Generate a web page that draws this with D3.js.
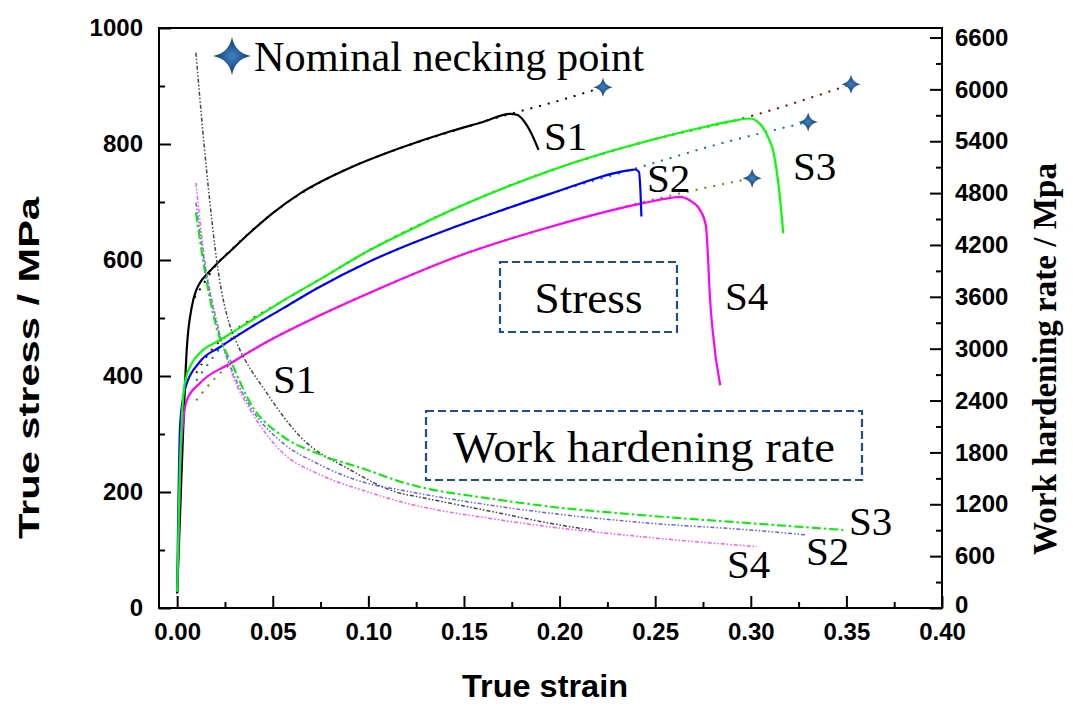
<!DOCTYPE html>
<html>
<head>
<meta charset="utf-8">
<script src="https://cdn.jsdelivr.net/npm/d3@7"></script>
<style>
  body { margin: 0; background: #fff; }
  svg { display: block; }
</style>
</head>
<body>
<svg id="chart" width="1073" height="709"></svg>
<script>
// ---- tick values ----
const strainTicks = [0, 0.05, 0.10, 0.15, 0.20, 0.25, 0.30, 0.35, 0.40];
const strainMinor = [0.025, 0.075, 0.125, 0.175, 0.225, 0.275, 0.325, 0.375];
const stressTicks = [0, 200, 400, 600, 800, 1000];
const stressMinor = [100, 300, 500, 700, 900];
const rateTicks = [0, 600, 1200, 1800, 2400, 3000, 3600, 4200, 4800, 5400, 6000, 6600];
const rateMinor = [300, 900, 1500, 2100, 2700, 3300, 3900, 4500, 5100, 5700, 6300];

// ---- true stress–strain curves [strain, MPa] ----
const stressS1 = [[0,25],[0.0015,160],[0.003,295],[0.005,445],[0.0077,520],[0.01,548],[0.012,561],[0.016,577],
  [0.02,591],[0.028,616],[0.038,647],[0.05,681],[0.064,714],[0.0905,759],[0.1166,793],[0.143,822],[0.16,838],
  [0.174,852],[0.178,850],[0.181,841],[0.185,820],[0.189,790]];
const stressS2 = [[0,28],[0.0016,319],[0.004,376],[0.012,425],[0.0225,450],[0.038,483],[0.0555,517],[0.073,551],
  [0.099,595],[0.12,625],[0.1427,654],[0.17,686],[0.195,714],[0.237,755],[0.2395,756],[0.2415,752],[0.2422,725],[0.2428,675]];
const stressS3 = [[0,28],[0.0012,215],[0.0025,330],[0.004,388],[0.0077,422],[0.012,440],[0.0225,462],[0.038,494],
  [0.0555,530],[0.0764,570],[0.099,614],[0.12,649],[0.1427,685],[0.17,723],[0.195,754],[0.22,781],[0.247,806],
  [0.27,825],[0.291,840],[0.2996,844],[0.303,840],[0.306,830],[0.309,812],[0.312,784],[0.315,715],[0.317,646]];
const stressS4 = [[0,28],[0.0006,100],[0.002,272],[0.005,358],[0.012,388],[0.028,422],[0.047,459],[0.073,502],
  [0.108,554],[0.1515,612],[0.195,657],[0.2437,698],[0.258,707],[0.263,709],[0.268,703],[0.2735,686],
  [0.2765,660],[0.2777,600],[0.2785,543],[0.280,480],[0.284,384]];

// ---- fitted flow curves, extended to nominal necking [strain, MPa] ----
const fitS1 = [[0.009,535],[0.013,555],[0.02,590],[0.03,623],[0.05,681],[0.08,743],[0.11,785],[0.14,818],
  [0.17,848],[0.2,875],[0.2227,898]];
const fitS2 = [[0.010,392],[0.016,420],[0.0225,448],[0.038,483],[0.0555,517],[0.073,551],[0.099,595],
  [0.1427,654],[0.195,714],[0.24,758],[0.28,797],[0.33,838]];
const fitS3 = [[0.010,405],[0.018,445],[0.03,478],[0.0555,530],[0.0764,570],[0.099,614],[0.1427,685],
  [0.195,754],[0.247,806],[0.3,848],[0.3524,903]];
const fitS4 = [[0.010,358],[0.018,390],[0.0225,405],[0.047,459],[0.073,502],[0.108,554],[0.1515,612],
  [0.195,657],[0.2437,700],[0.27,720],[0.3007,741]];

// ---- nominal necking points ----
const neckStrain = [0.2227, 0.33, 0.3524, 0.3007];
const neckStress = [898, 838, 903, 741];

// ---- work hardening rate [strain, MPa] ----
const whrS1 = [[0.0098,6423],[0.0155,5037],[0.0216,3879],[0.0277,3257],[0.0312,3065],[0.0469,2486],
  [0.0643,1983],[0.0905,1598],[0.1166,1328],[0.1253,1289],[0.1689,1097],[0.195,980],[0.2168,903]];
const whrS2 = [[0.0098,4689],[0.0146,3950],[0.0199,3350],[0.0293,2717],[0.0382,2331],[0.0554,1907],
  [0.073,1675],[0.0992,1444],[0.1166,1366],[0.1689,1173],[0.2473,981],[0.2996,903],[0.3293,845]];
const whrS3 = [[0.0098,4574],[0.0146,3879],[0.0199,3300],[0.0293,2794],[0.0382,2374],[0.0554,1983],
  [0.073,1791],[0.0992,1598],[0.1166,1462],[0.1689,1250],[0.195,1173],[0.2473,1067],[0.2996,981],[0.3484,903]];
const whrS4 = [[0.0098,4918],[0.0146,4000],[0.0199,3400],[0.0293,2678],[0.0382,2293],[0.0554,1791],
  [0.073,1560],[0.0992,1347],[0.1166,1231],[0.1689,1019],[0.2473,815],[0.3031,710]];

// ---- layout ----
const svg = d3.select("#chart");
const L = 159, R = 942, T = 28, B = 608;

const x = d3.scaleLinear().domain([-0.0095, 0.40]).range([L, R]);
const yS = d3.scaleLinear().domain([0, 1000]).range([B, T]);
const yW = d3.scaleLinear().domain([0, 6600]).range([B, 37.5]);

const tickFont = "'Liberation Sans', Arial, sans-serif";
const serif = "'Liberation Serif', 'Times New Roman', serif";

// axes with inward ticks
function styleAxis(g) {
  g.select(".domain").remove();
  g.selectAll(".tick line").attr("stroke", "#000").attr("stroke-width", 2);
  g.selectAll(".tick text").attr("font-family", tickFont).attr("font-weight", "bold")
    .attr("font-size", 24).attr("fill", "#000");
}

svg.append("g").attr("transform", `translate(0,${B})`)
  .call(d3.axisBottom(x).tickValues(strainTicks).tickFormat(d3.format(".2f")).tickSize(-12).tickPadding(15))
  .call(styleAxis);
svg.append("g").attr("transform", `translate(0,${B})`)
  .call(d3.axisBottom(x).tickValues(strainMinor).tickFormat("").tickSize(-6))
  .call(styleAxis);

svg.append("g").attr("transform", `translate(${L},0)`)
  .call(d3.axisLeft(yS).tickValues(stressTicks).tickFormat(d3.format("d")).tickSize(-12).tickPadding(16))
  .call(styleAxis);
svg.append("g").attr("transform", `translate(${L},0)`)
  .call(d3.axisLeft(yS).tickValues(stressMinor).tickFormat("").tickSize(-6))
  .call(styleAxis);

const rightAxis = svg.append("g").attr("transform", `translate(${R},0)`)
  .call(d3.axisRight(yW).tickValues(rateTicks).tickFormat(d3.format("d")).tickSize(-12).tickPadding(13))
  .call(styleAxis);
// lift the bottom label slightly so it clears the strain labels
rightAxis.selectAll(".tick text").filter(d => d === 0).attr("dy", "0.2em");
svg.append("g").attr("transform", `translate(${R},0)`)
  .call(d3.axisRight(yW).tickValues(rateMinor).tickFormat("").tickSize(-6))
  .call(styleAxis);

// frame
svg.append("rect").attr("x", L).attr("y", T).attr("width", R - L).attr("height", B - T)
  .attr("fill", "none").attr("stroke", "#000").attr("stroke-width", 2);

// axis titles
svg.append("text").attr("x", 545).attr("y", 697).attr("text-anchor", "middle")
  .attr("font-family", tickFont).attr("font-weight", "bold").attr("font-size", 31)
  .attr("textLength", 166).attr("lengthAdjust", "spacingAndGlyphs").text("True strain");
svg.append("text").attr("transform", "translate(39,368) rotate(-90)").attr("text-anchor", "middle")
  .attr("font-family", tickFont).attr("font-weight", "bold").attr("font-size", 30)
  .attr("textLength", 342).attr("lengthAdjust", "spacingAndGlyphs").text("True stress / MPa");
svg.append("text").attr("transform", "translate(1056,359) rotate(-90)").attr("text-anchor", "middle")
  .attr("font-family", serif).attr("font-weight", "bold").attr("font-size", 33)
  .attr("textLength", 392).attr("lengthAdjust", "spacingAndGlyphs").text("Work hardening rate / Mpa");

// lines
const lineS = d3.line().x(d => x(d[0])).y(d => yS(d[1])).curve(d3.curveMonotoneX);
const lineW = d3.line().x(d => x(d[0])).y(d => yW(d[1])).curve(d3.curveMonotoneX);

const fits = [
  { data: fitS1, color: "#000000" },
  { data: fitS2, color: "#008080" },
  { data: fitS3, color: "#8b0000" },
  { data: fitS4, color: "#808000" }
];
fits.forEach(f => {
  svg.append("path").attr("d", lineS(f.data)).attr("fill", "none")
    .attr("stroke", f.color).attr("stroke-width", 2).attr("stroke-dasharray", "2,7");
});

const stresses = [
  { data: stressS1, color: "#000000" },
  { data: stressS4, color: "#ff00ff" },
  { data: stressS2, color: "#0000ff" },
  { data: stressS3, color: "#00ff00" }
];
stresses.forEach(s => {
  svg.append("path").attr("d", lineS(s.data)).attr("fill", "none")
    .attr("stroke", s.color).attr("stroke-width", 2.2).attr("stroke-linejoin", "round");
});

const whrs = [
  { data: whrS1, color: "#444444", dash: "4,2,1.5,2,1.5,2", w: 1.5 },
  { data: whrS4, color: "#ff55ff", dash: "4,2,1.5,2,1.5,2", w: 1.5 },
  { data: whrS2, color: "#6060ff", dash: "4,2,1.5,2,1.5,2", w: 1.5 },
  { data: whrS3, color: "#00ee00", dash: "9,3,2.5,3", w: 2 }
];
whrs.forEach(s => {
  svg.append("path").attr("d", lineW(s.data)).attr("fill", "none")
    .attr("stroke", s.color).attr("stroke-width", s.w).attr("stroke-dasharray", s.dash);
});

// four-pointed star marker
function starPath(r) {
  const c = r * 0.16;
  return `M0,${-r}Q${c},${-c} ${r},0Q${c},${c} 0,${r}Q${-c},${c} ${-r},0Q${-c},${-c} 0,${-r}Z`;
}
const defs = svg.append("defs");
const grad = defs.append("radialGradient").attr("id", "starFill");
grad.append("stop").attr("offset", "0%").attr("stop-color", "#3f7fc0");
grad.append("stop").attr("offset", "100%").attr("stop-color", "#0f3a70");

neckStrain.forEach((e, i) => {
  svg.append("path").attr("d", starPath(9.5))
    .attr("transform", `translate(${x(e)},${yS(neckStress[i])})`)
    .attr("fill", "url(#starFill)");
});

// legend
svg.append("path").attr("d", starPath(19)).attr("transform", "translate(232,56)").attr("fill", "url(#starFill)");
svg.append("text").attr("x", 254).attr("y", 71).attr("font-family", serif).attr("font-size", 42)
  .attr("textLength", 390).attr("lengthAdjust", "spacingAndGlyphs").text("Nominal necking point");

// curve labels
const labels = [
  ["S1", 544, 150], ["S2", 647, 192], ["S3", 793, 180], ["S4", 725, 310],
  ["S1", 273, 393], ["S4", 727, 578], ["S2", 806, 565], ["S3", 849, 535]
];
labels.forEach(([t, lx, ly]) => {
  svg.append("text").attr("x", lx).attr("y", ly).attr("font-family", serif).attr("font-size", 41).text(t);
});

// boxed captions
const boxes = [
  { text: "Stress", x0: 500, y0: 262, x1: 677, y1: 332, w: 108 },
  { text: "Work hardening rate", x0: 426, y0: 411, x1: 862, y1: 480, w: 382 }
];
boxes.forEach(b => {
  svg.append("rect").attr("x", b.x0).attr("y", b.y0).attr("width", b.x1 - b.x0).attr("height", b.y1 - b.y0)
    .attr("fill", "none").attr("stroke", "#1f4e8c").attr("stroke-width", 2.2).attr("stroke-dasharray", "8,4");
  svg.append("text").attr("x", (b.x0 + b.x1) / 2).attr("y", (b.y0 + b.y1) / 2 + 16)
    .attr("text-anchor", "middle").attr("font-family", serif).attr("font-size", 44)
    .attr("textLength", b.w).attr("lengthAdjust", "spacingAndGlyphs").text(b.text);
});
</script>
</body>
</html>
